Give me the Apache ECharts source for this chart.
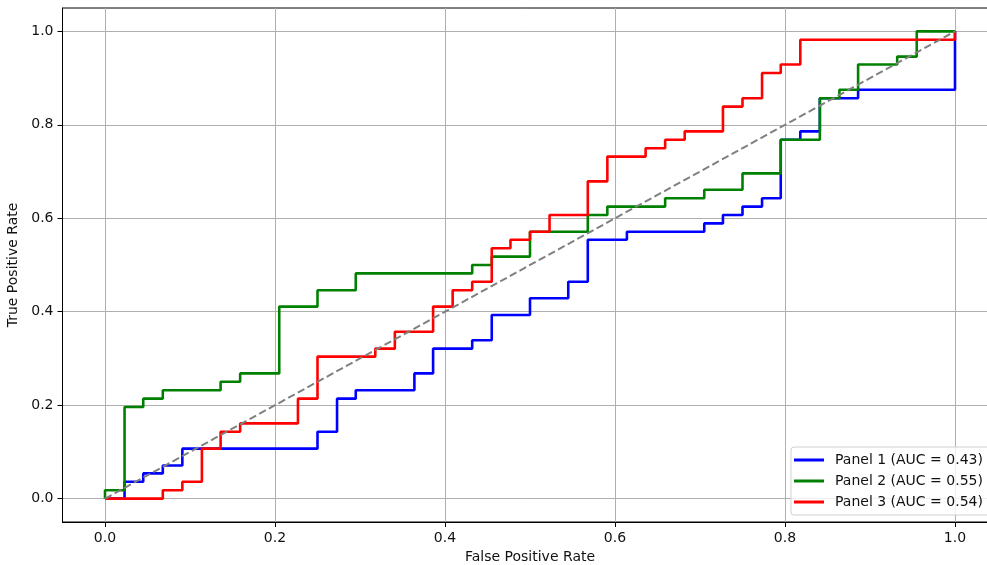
<!DOCTYPE html>
<html>
<head>
<meta charset="utf-8">
<title>ROC curves</title>
<script src="https://cdn.jsdelivr.net/npm/echarts@6/dist/echarts.min.js"></script>
<style>
  html, body { margin: 0; padding: 0; background: #fff; }
  #chart { width: 987px; height: 565px; }
</style>
</head>
<body>
<div id="chart"></div>
<script>
// ROC corner points (false positive rate / true positive rate)
const p1Fpr = [0, 0.023, 0.023, 0.045, 0.045, 0.068, 0.068, 0.091, 0.091, 0.25, 0.25, 0.273, 0.273, 0.295, 0.295, 0.364, 0.364, 0.386, 0.386, 0.432, 0.432, 0.455, 0.455, 0.5, 0.5, 0.545, 0.545, 0.568, 0.568, 0.614, 0.614, 0.705, 0.705, 0.727, 0.727, 0.75, 0.75, 0.773, 0.773, 0.795, 0.795, 0.818, 0.818, 0.841, 0.841, 0.886, 0.886, 1, 1]
const p1Tpr = [0, 0, 0.036, 0.036, 0.054, 0.054, 0.071, 0.071, 0.107, 0.107, 0.143, 0.143, 0.214, 0.214, 0.232, 0.232, 0.268, 0.268, 0.321, 0.321, 0.339, 0.339, 0.393, 0.393, 0.429, 0.429, 0.464, 0.464, 0.554, 0.554, 0.571, 0.571, 0.589, 0.589, 0.607, 0.607, 0.625, 0.625, 0.643, 0.643, 0.768, 0.768, 0.786, 0.786, 0.857, 0.857, 0.875, 0.875, 1]

const p2Fpr = [0, 0, 0.023, 0.023, 0.045, 0.045, 0.068, 0.068, 0.136, 0.136, 0.159, 0.159, 0.205, 0.205, 0.25, 0.25, 0.295, 0.295, 0.432, 0.432, 0.455, 0.455, 0.5, 0.5, 0.568, 0.568, 0.591, 0.591, 0.659, 0.659, 0.705, 0.705, 0.75, 0.75, 0.795, 0.795, 0.841, 0.841, 0.864, 0.864, 0.886, 0.886, 0.932, 0.932, 0.955, 0.955, 1]
const p2Tpr = [0, 0.018, 0.018, 0.196, 0.196, 0.214, 0.214, 0.232, 0.232, 0.25, 0.25, 0.268, 0.268, 0.411, 0.411, 0.446, 0.446, 0.482, 0.482, 0.5, 0.5, 0.518, 0.518, 0.571, 0.571, 0.607, 0.607, 0.625, 0.625, 0.643, 0.643, 0.661, 0.661, 0.696, 0.696, 0.768, 0.768, 0.857, 0.857, 0.875, 0.875, 0.929, 0.929, 0.946, 0.946, 1, 1]

const p3Fpr = [0, 0.068, 0.068, 0.091, 0.091, 0.114, 0.114, 0.136, 0.136, 0.159, 0.159, 0.227, 0.227, 0.25, 0.25, 0.318, 0.318, 0.341, 0.341, 0.386, 0.386, 0.409, 0.409, 0.432, 0.432, 0.455, 0.455, 0.477, 0.477, 0.5, 0.5, 0.523, 0.523, 0.568, 0.568, 0.591, 0.591, 0.636, 0.636, 0.659, 0.659, 0.682, 0.682, 0.727, 0.727, 0.75, 0.75, 0.773, 0.773, 0.795, 0.795, 0.818, 0.818, 1, 1]
const p3Tpr = [0, 0, 0.018, 0.018, 0.036, 0.036, 0.107, 0.107, 0.143, 0.143, 0.161, 0.161, 0.214, 0.214, 0.304, 0.304, 0.321, 0.321, 0.357, 0.357, 0.411, 0.411, 0.446, 0.446, 0.464, 0.464, 0.536, 0.536, 0.554, 0.554, 0.571, 0.571, 0.607, 0.607, 0.679, 0.679, 0.732, 0.732, 0.75, 0.75, 0.768, 0.768, 0.786, 0.786, 0.839, 0.839, 0.857, 0.857, 0.911, 0.911, 0.929, 0.929, 0.982, 0.982, 1]

const chanceFpr = [0, 1]
const chanceTpr = [0, 1]

const panelNames = ['Panel 1 (AUC = 0.43)', 'Panel 2 (AUC = 0.55)', 'Panel 3 (AUC = 0.54)']
const panelColors = ['#0000ff', '#008000', '#ff0000']
const tickValues = [0, 0.2, 0.4, 0.6, 0.8, 1.0]

const FONT = 'DejaVu Sans'

const toPairs = (xs, ys) => xs.map((x, i) => [x, ys[i]])

const curves = [
  toPairs(p1Fpr, p1Tpr),
  toPairs(p2Fpr, p2Tpr),
  toPairs(p3Fpr, p3Tpr)
]

const axisCommon = {
  type: 'value',
  min: -0.05,
  max: 1.05,
  nameLocation: 'middle',
  nameTextStyle: { fontFamily: FONT, fontSize: 14, color: '#111' },
  axisLine: { show: true, onZero: false, lineStyle: { color: '#000', width: 1 } },
  axisTick: {
    show: true,
    length: 5,
    customValues: tickValues,
    lineStyle: { color: '#000', width: 1 }
  },
  axisLabel: {
    customValues: tickValues,
    formatter: (v) => v.toFixed(1),
    fontFamily: FONT,
    fontSize: 14,
    color: '#111',
    margin: 9
  },
  splitLine: { show: true, lineStyle: { color: '#b0b0b0', width: 1 } }
}

const chart = echarts.init(document.getElementById('chart'))

const series = curves.map((pts, i) => ({
  name: panelNames[i],
  type: 'line',
  data: pts,
  showSymbol: false,
  symbol: 'none',
  lineStyle: { color: panelColors[i], width: 2.6 },
  itemStyle: { color: panelColors[i] },
  z: 3 + i
}))

series.push({
  name: 'chance',
  type: 'line',
  data: toPairs(chanceFpr, chanceTpr),
  symbol: 'none',
  lineStyle: { color: '#808080', width: 2, type: [7.5, 3.5] },
  z: 10
})

const option = {
  animation: false,
  backgroundColor: '#fff',
  grid: {
    left: 62.5,
    width: 935,
    top: 8,
    height: 514,
    outerBoundsMode: 'none',
    containLabel: false,
    show: true,
    borderColor: '#000',
    borderWidth: 1
  },
  legend: {
    data: panelNames,
    orient: 'vertical',
    left: 791,
    top: 447,
    icon: 'rect',
    itemWidth: 30,
    itemHeight: 3,
    itemGap: 5,
    padding: [5, 10, 5, 3],
    backgroundColor: 'rgba(255,255,255,0.8)',
    borderColor: '#d0d0d0',
    borderWidth: 1,
    borderRadius: 3,
    textStyle: { fontFamily: FONT, fontSize: 14, color: '#111', lineHeight: 16, padding: [0, 0, 0, 6] }
  },
  xAxis: Object.assign({}, axisCommon, { name: 'False Positive Rate', nameGap: 28 }),
  yAxis: Object.assign({}, axisCommon, { name: 'True Positive Rate', nameGap: 37 }),
  series: series
}

chart.setOption(option)
</script>
</body>
</html>
